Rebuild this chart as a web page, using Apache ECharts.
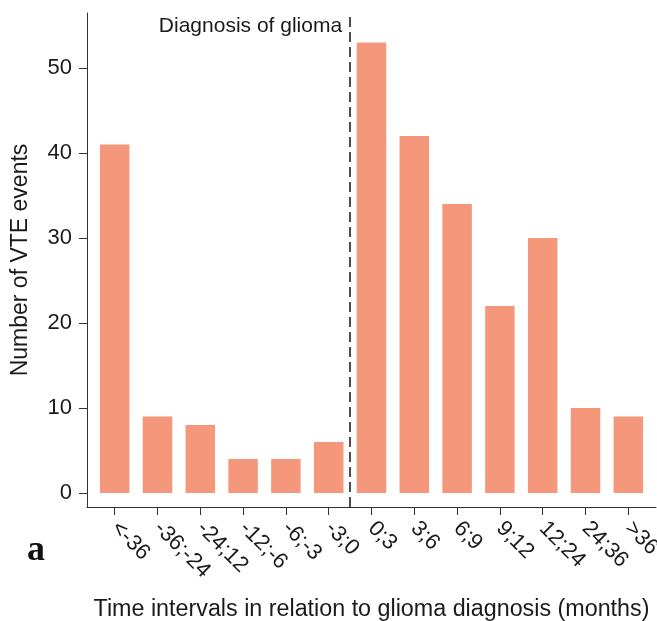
<!DOCTYPE html>
<html>
<head>
<meta charset="utf-8">
<script src="https://cdn.jsdelivr.net/npm/echarts@6/dist/echarts.min.js"></script>
<style>
html,body{margin:0;padding:0;background:#fff;}
#chart{width:657px;height:621px;}
</style>
</head>
<body>
<div id="chart"></div>
<script>
var categories = ['<-36', '-36;-24', '-24;12', '-12;-6', '-6;-3', '-3;0', '0;3', '3;6', '6;9', '9;12', '12;24', '24;36', '>36'];
var vteEvents = [41, 9, 8, 4, 4, 6, 53, 42, 34, 22, 30, 10, 9];
var yTicks = [0, 10, 20, 30, 40, 50];
var diagnosisPosition = 6.5;
var annotationText = 'Diagnosis of glioma';
var panelLetter = 'a';

var positions = categories.map(function (c, i) { return i + 1; });
var barData = categories.map(function (c, i) { return [positions[i], vteEvents[i]]; });

var FONT = '"Liberation Sans", Arial, Helvetica, sans-serif';
var TXT = '#1a1a1a';
var AX = '#333333';

var chart = echarts.init(document.getElementById('chart'), null, {renderer: 'canvas'});
var option = {
  animation: false,
  backgroundColor: '#ffffff',
  grid: {left: 87, right: 1, top: 13, bottom: 114, containLabel: false, outerBoundsMode: 'none'},
  xAxis: {
    type: 'value',
    min: 0.353,
    max: 13.647,
    name: 'Time intervals in relation to glioma diagnosis (months)',
    nameLocation: 'middle',
    nameGap: 91,
    nameTextStyle: {fontFamily: FONT, fontSize: 23.3, color: TXT},
    axisLine: {show: true, onZero: false, lineStyle: {color: AX, width: 1}},
    axisTick: {show: true, customValues: positions, length: 8, inside: false, lineStyle: {color: AX, width: 1}},
    axisLabel: {
      customValues: positions,
      rotate: -45,
      margin: 18,
      fontFamily: FONT, fontSize: 22, color: TXT,
      formatter: function (v) { return categories[Math.round(v) - 1]; }
    },
    splitLine: {show: false}
  },
  yAxis: {
    type: 'value',
    min: -1.647,
    max: 56.47,
    name: 'Number of VTE events',
    nameLocation: 'middle',
    nameGap: 55,
    nameTextStyle: {fontFamily: FONT, fontSize: 23, color: TXT},
    axisLine: {show: true, lineStyle: {color: AX, width: 1}},
    axisTick: {show: true, customValues: yTicks, length: 8, inside: false, lineStyle: {color: AX, width: 1}},
    axisLabel: {customValues: yTicks, margin: 15, fontFamily: FONT, fontSize: 22, color: TXT},
    splitLine: {show: false}
  },
  series: [{
    type: 'bar',
    data: barData,
    barWidth: 29.5,
    itemStyle: {color: '#F5977A'},
    markLine: {
      silent: true,
      symbol: ['none', 'none'],
      label: {show: false},
      lineStyle: {color: '#222222', width: 1.6, type: [10, 5]},
      data: [[{coord: [diagnosisPosition, -1.647]}, {coord: [diagnosisPosition, 56.47]}]]
    }
  }]
};
chart.setOption(option);

var lineX = chart.convertToPixel({xAxisIndex: 0}, diagnosisPosition);
var topY = chart.convertToPixel({yAxisIndex: 0}, 56.47);
chart.setOption({
  graphic: [
    {
      type: 'text', silent: true,
      x: lineX - 8, y: topY + 13,
      style: {text: annotationText, font: '21px ' + FONT, fill: TXT, textAlign: 'right', textVerticalAlign: 'middle'}
    },
    {
      type: 'text', silent: true,
      x: 36, y: 551,
      style: {text: panelLetter, font: 'bold 36px "Liberation Serif", "Times New Roman", serif', fill: '#111', textAlign: 'center', textVerticalAlign: 'middle'}
    }
  ]
});
</script>
</body>
</html>
